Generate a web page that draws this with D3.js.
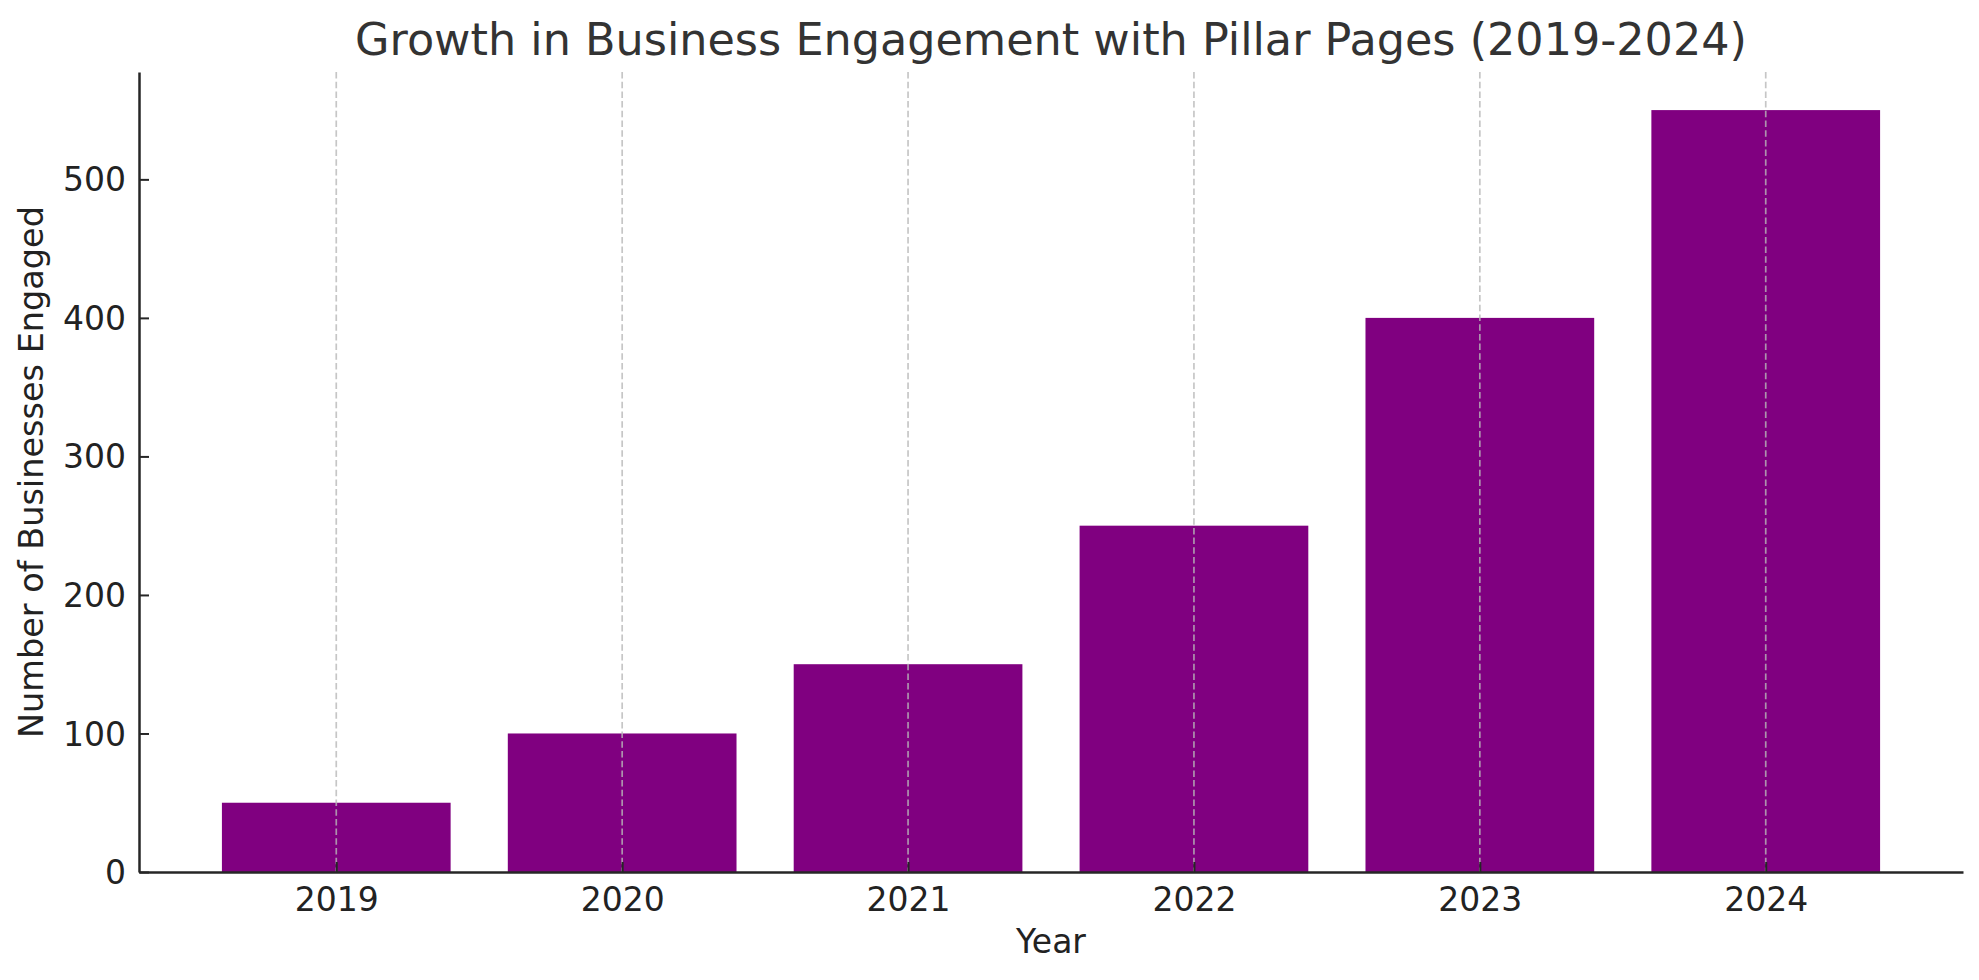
<!DOCTYPE html>
<html>
<head>
<meta charset="utf-8">
<script src="https://cdn.jsdelivr.net/npm/d3@7"></script>
<style>
  body { margin: 0; background: #fff; }
  text { font-family: "DejaVu Sans", sans-serif; }
</style>
</head>
<body>
<div id="chart"></div>
<script>
// data
var years = ['2019', '2020', '2021', '2022', '2023', '2024'];
var businesses = [50, 100, 150, 250, 400, 550];
var yTicks = [0, 100, 200, 300, 400, 500];

var width = 1979, height = 980;
var margin = {top: 72, right: 16, bottom: 108, left: 139};

var svg = d3.select('#chart').append('svg')
    .attr('width', width)
    .attr('height', height);

// bars sit at integer positions like a matplotlib bar plot, width 0.8, 5% margins
var x = d3.scaleLinear()
    .domain([-0.69, years.length - 1 + 0.69])
    .range([margin.left, width - margin.right]);

var y = d3.scaleLinear()
    .domain([0, d3.max(businesses) * 1.05])
    .range([height - margin.bottom, margin.top]);

var barW = x(0.8) - x(0);

// bars
svg.selectAll('rect.bar')
    .data(years)
    .enter().append('rect')
    .attr('class', 'bar')
    .attr('x', (d, i) => x(i) - barW / 2)
    .attr('y', (d, i) => y(businesses[i]))
    .attr('width', barW)
    .attr('height', (d, i) => y(0) - y(businesses[i]))
    .style('fill', '#800080');

// vertical dashed grid, drawn over the bars
svg.append('g')
    .selectAll('line')
    .data(years)
    .enter().append('line')
    .attr('x1', (d, i) => x(i))
    .attr('x2', (d, i) => x(i))
    .attr('y1', y.range()[1])
    .attr('y2', y(0))
    .style('stroke', '#b8b8b8')
    .style('stroke-opacity', 0.8)
    .style('stroke-width', 1.7)
    .style('stroke-dasharray', '6.5,3.2');

// x axis
var xAxis = d3.axisBottom(x)
    .tickValues(d3.range(years.length))
    .tickFormat(i => years[i])
    .tickSizeInner(-10)
    .tickSizeOuter(0)
    .tickPadding(14);

var gx = svg.append('g')
    .attr('transform', 'translate(0,' + y(0) + ')')
    .call(xAxis);

// y axis
var yAxis = d3.axisLeft(y)
    .tickValues(yTicks)
    .tickSizeInner(-10)
    .tickSizeOuter(0)
    .tickPadding(13);

var gy = svg.append('g')
    .attr('transform', 'translate(' + margin.left + ',0)')
    .call(yAxis);

[gx, gy].forEach(function(g) {
  g.select('.domain').style('stroke', '#262626').style('stroke-width', 2.5);
  g.selectAll('.tick line').style('stroke', '#262626').style('stroke-width', 2);
  g.selectAll('.tick text')
    .style('font-size', '33px')
    .style('font-family', '"DejaVu Sans", sans-serif')
    .style('fill', '#222222');
});
gx.selectAll('.tick text').attr('dy', '0.76em');
gy.selectAll('.tick text').attr('dy', '0.35em');

// title
svg.append('text')
    .attr('x', (x.range()[0] + x.range()[1]) / 2)
    .attr('y', 55)
    .attr('text-anchor', 'middle')
    .style('font-size', '44.5px')
    .style('fill', '#333333')
    .text('Growth in Business Engagement with Pillar Pages (2019-2024)');

// axis labels
svg.append('text')
    .attr('x', (x.range()[0] + x.range()[1]) / 2)
    .attr('y', 953)
    .attr('text-anchor', 'middle')
    .style('font-size', '33px')
    .style('fill', '#222222')
    .text('Year');

svg.append('text')
    .attr('transform', 'translate(43,' + (y.range()[0] + y.range()[1]) / 2 + ') rotate(-90)')
    .attr('text-anchor', 'middle')
    .style('font-size', '33.5px')
    .style('fill', '#222222')
    .text('Number of Businesses Engaged');
</script>
</body>
</html>
